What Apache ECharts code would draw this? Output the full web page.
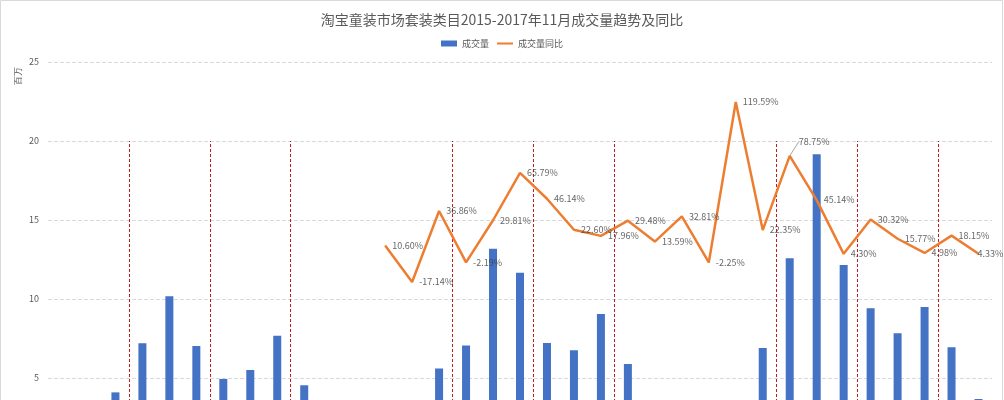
<!DOCTYPE html>
<html>
<head>
<meta charset="utf-8">
<script src="https://cdn.jsdelivr.net/npm/echarts@6/dist/echarts.min.js"></script>
<style>html,body{margin:0;padding:0;background:#fff;}#c{width:1004px;height:400px;}</style>
</head>
<body>
<div id="c"></div>
<script>
// Months Jan 2015 .. Nov 2017
const categories = [
  '2015年1月','2015年2月','2015年3月','2015年4月','2015年5月','2015年6月','2015年7月','2015年8月','2015年9月','2015年10月','2015年11月','2015年12月',
  '2016年1月','2016年2月','2016年3月','2016年4月','2016年5月','2016年6月','2016年7月','2016年8月','2016年9月','2016年10月','2016年11月','2016年12月',
  '2017年1月','2017年2月','2017年3月','2017年4月','2017年5月','2017年6月','2017年7月','2017年8月','2017年9月','2017年10月','2017年11月'
];
// 成交量 (百万)
const volume = [
  2.6, 1.6, 4.09, 7.2, 10.17, 7.03, 4.94, 5.5, 7.68, 4.54, 3.1, 2.5,
  2.88, 1.33, 5.6, 7.05, 13.18, 11.66, 7.22, 6.75, 9.05, 5.88, 3.52, 3.32,
  2.81, 2.91, 6.9, 12.58, 19.16, 12.15, 9.41, 7.83, 9.5, 6.94, 3.67
];
// 成交量同比 (%)
const yoy = [
  null, null, null, null, null, null, null, null, null, null, null, null,
  10.60, -17.14, 36.86, -2.19, 29.81, 65.79, 46.14, 22.60, 17.96, 29.48, 13.59, 32.81,
  -2.25, 119.59, 22.35, 78.75, 45.14, 4.30, 30.32, 15.77, 4.98, 18.15, 4.33
];
// quarter boundaries (category index where a new quarter starts)
const quarterBreaks = [3, 6, 9, 15, 18, 21, 27, 30, 33];
const breakTop = 20;

const chart = echarts.init(document.getElementById('c'));
const FONT = '"Noto Sans CJK SC", "Noto Sans", sans-serif';

const labelData = yoy.map((v, i) =>
  i === 27 ? { value: v, labelLine: { show: true } } : v
);
const lastIdx = yoy.length - 1;

chart.setOption({
  animation: false,
  backgroundColor: '#fff',
  textStyle: { fontFamily: FONT },
  title: {
    text: '淘宝童装市场套装类目2015-2017年11月成交量趋势及同比',
    left: 'center', top: 8,
    textStyle: { fontSize: 14, fontWeight: 'normal', color: '#595959', fontFamily: FONT }
  },
  legend: {
    top: 34, left: 'center',
    itemGap: 8,
    itemWidth: 16, itemHeight: 6,
    textStyle: { fontSize: 9, color: '#595959', fontFamily: FONT },
    data: [
      { name: '成交量', icon: 'rect' },
      { name: '成交量同比', icon: 'path://M0,0L16,0L16,2L0,2Z' }
    ]
  },
  graphic: [
    { type: 'rect', shape: { x: 0.5, y: 0.5, width: 1002, height: 420 }, style: { fill: 'none', stroke: '#d9d9d9', lineWidth: 1 }, silent: true },
    { type: 'text', left: 14, top: 67, rotation: Math.PI / 2, style: { text: '百万', fontSize: 9, fill: '#595959', font: '9px ' + FONT } }
  ],
  grid: { left: 48, right: 12, top: 62, bottom: -57, containLabel: false, outerBoundsMode: 'none' },
  xAxis: [
    {
      type: 'category', data: categories,
      axisLine: { show: true, lineStyle: { color: '#d9d9d9' } },
      axisTick: { show: false },
      axisLabel: { color: '#595959', fontSize: 9 }
    },
    { type: 'value', min: 0, max: categories.length, show: false }
  ],
  yAxis: [
    {
      type: 'value', min: 0, max: 25, interval: 5,
      axisLine: { show: false }, axisTick: { show: false },
      axisLabel: { color: '#595959', fontSize: 9, margin: 9 },
      splitLine: { lineStyle: { color: '#d9d9d9', type: 'dashed', width: 1 } }
    },
    { type: 'value', min: -150, max: 150, show: false, splitLine: { show: false } }
  ],
  series: [
    {
      name: '成交量', type: 'bar', data: volume,
      xAxisIndex: 0, yAxisIndex: 0,
      barWidth: 8,
      itemStyle: { color: '#4472C4' }
    },
    {
      name: '成交量同比', type: 'line', data: yoy,
      xAxisIndex: 0, yAxisIndex: 1,
      symbol: 'none', connectNulls: false,
      lineStyle: { color: '#ED7D31', width: 2.5 },
      itemStyle: { color: '#ED7D31' },
      z: 3
    },
    {
      name: '同比标签', type: 'scatter', data: labelData,
      xAxisIndex: 0, yAxisIndex: 1,
      symbolSize: 0.1,
      itemStyle: { color: 'rgba(0,0,0,0)' },
      silent: true,
      label: {
        show: true, position: 'right', distance: 7,
        color: '#404040', fontSize: 9, fontFamily: FONT,
        formatter: p => p.value == null ? '' : Number(p.value).toFixed(2) + '%'
      },
      labelLayout: p => p.dataIndex === 27 ? { dy: -14, dx: 2 }
        : (p.dataIndex === lastIdx ? { dx: -8 } : {}),
      labelLine: { show: false, lineStyle: { color: '#a6a6a6', width: 1 } },
      z: 4
    },
    {
      type: 'lines', coordinateSystem: 'cartesian2d',
      xAxisIndex: 1, yAxisIndex: 0,
      silent: true,
      lineStyle: { color: '#C00000', type: [3, 2], width: 1, opacity: 0.9 },
      data: quarterBreaks.map(b => ({ coords: [[b, 0], [b, breakTop]] })),
      z: 1
    }
  ]
});
</script>
</body>
</html>
